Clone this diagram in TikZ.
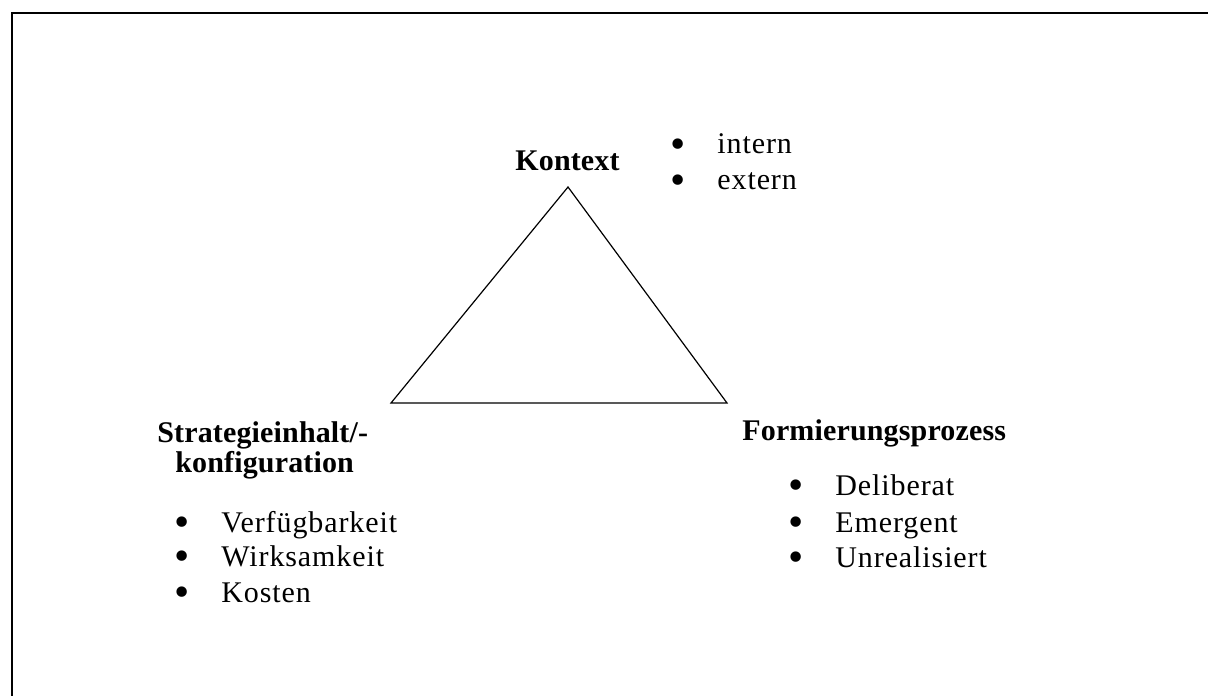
\documentclass[tikz,border=0pt]{standalone}
\usepackage{fontspec}
\setmainfont{Liberation Serif}
\usetikzlibrary{positioning}
\tikzstyle{titel} = [font=\fontsize{15}{17}\selectfont\bfseries\addfontfeatures{LetterSpace=0.5}, inner sep=0pt, anchor=base west]
\tikzstyle{punkt} = [font=\fontsize{15}{17}\selectfont\addfontfeatures{LetterSpace=3}, inner sep=0pt, anchor=base west]
\tikzstyle{rahmen} = [line width=1pt]
\tikzstyle{linie} = [line width=0.6pt]
\newcommand{\bul}{\makebox[23.5pt][l]{\smash{\raisebox{-2.4pt}{\scalebox{1.45}{\textbullet}}}}}

\begin{document}
\begin{tikzpicture}[x=0.5pt, y=-0.5pt]
		\useasboundingbox (0,0) rectangle (1208,695);
		\clip (0,0) rectangle (1208,695);
		\draw [rahmen] (11.5,720) |- (1230,13.5);
		
		% Dreieck
		\coordinate (oben) at (568,187);
		\coordinate (links) at (391,403);
		\coordinate (rechts) at (727,403);
		\draw [linie] (oben) -- (rechts) -- (links) -- cycle;
		
		% Kontext
		\node (kontext) [titel] at (515,170) {Kontext};
		\node (intern) [punkt] at (670,154) {\bul intern};
		\node (extern) [punkt] at (670,190) {\bul extern};
		
		% Strategieinhalt
		\node (strat) [titel] at (157,442) {Strategieinhalt/-};
		\node (konf) [titel] at (175,472) {konfiguration};
		\node (verf) [punkt] at (174,532) {\bul Verfügbarkeit};
		\node (wirk) [punkt] at (174,566) {\bul Wirksamkeit};
		\node (kost) [punkt] at (174,602) {\bul Kosten};
		
		% Formierungsprozess
		\node (form) [titel] at (742,440) {Formierungsprozess};
		\node (delib) [punkt] at (788,495) {\bul Deliberat};
		\node (emerg) [punkt] at (788,532) {\bul Emergent};
		\node (unreal) [punkt] at (788,567) {\bul Unrealisiert};
	\end{tikzpicture}
\end{document}
